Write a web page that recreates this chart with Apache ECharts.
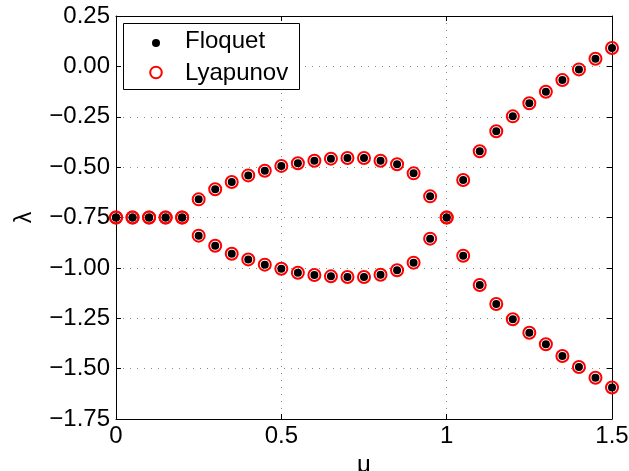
<!DOCTYPE html>
<html><head><meta charset="utf-8">
<script src="https://cdn.jsdelivr.net/npm/echarts@6/dist/echarts.min.js"></script>
<style>html,body{margin:0;padding:0;background:#fff}#c{width:629px;height:471px}</style>
</head><body><div id="c"></div>
<script>
const mu = [0,0.05,0.1,0.15,0.2,0.25,0.3,0.35,0.4,0.45,0.5,0.55,0.6,0.65,0.7,0.75,0.8,0.85,0.9,0.95,1.0,1.05,1.1,1.15,1.2,1.25,1.3,1.35,1.4,1.45,1.5];
const floquetUpper = [-0.75,-0.75,-0.75,-0.75,-0.75,-0.66,-0.61,-0.574,-0.541,-0.518,-0.494,-0.481,-0.468,-0.458,-0.455,-0.455,-0.468,-0.486,-0.531,-0.645,-0.75,-0.564,-0.421,-0.322,-0.248,-0.183,-0.126,-0.068,-0.015,0.038,0.091];
const floquetLower = [-0.75,-0.75,-0.75,-0.75,-0.75,-0.84,-0.89,-0.93,-0.958,-0.984,-1.004,-1.024,-1.035,-1.042,-1.045,-1.045,-1.034,-1.012,-0.974,-0.855,-0.75,-0.94,-1.085,-1.179,-1.255,-1.322,-1.379,-1.437,-1.492,-1.545,-1.594];
const lyapunovUpper = [-0.75,-0.75,-0.75,-0.75,-0.75,-0.66,-0.61,-0.574,-0.541,-0.518,-0.494,-0.481,-0.468,-0.458,-0.455,-0.455,-0.468,-0.486,-0.531,-0.645,-0.75,-0.564,-0.421,-0.322,-0.248,-0.183,-0.126,-0.068,-0.015,0.038,0.091];
const lyapunovLower = [-0.75,-0.75,-0.75,-0.75,-0.75,-0.84,-0.89,-0.93,-0.958,-0.984,-1.004,-1.024,-1.035,-1.042,-1.045,-1.045,-1.034,-1.012,-0.974,-0.855,-0.75,-0.94,-1.085,-1.179,-1.255,-1.322,-1.379,-1.437,-1.492,-1.545,-1.594];
const seriesNames = ['Floquet', 'Lyapunov'];
const xMin = 0, xMax = 1.5, xStep = 0.5;
const yMin = -1.75, yMax = 0.25, yStep = 0.25;

const FONT = '"Liberation Sans", Arial, Helvetica, sans-serif';
function pairs(xs, a, b) {
  const out = [];
  xs.forEach((x, i) => out.push([x, a[i]]));
  xs.forEach((x, i) => out.push([x, b[i]]));
  return out;
}
const fmtY = v => (v < 0 ? '\u2212' : '') + Math.abs(v).toFixed(2);
const fmtX = v => String(+v.toFixed(2));
const gridLine = { show: true, lineStyle: { color: '#8a8a8a', type: [1, 6], width: 1 } };
const axLine = { show: true, onZero: false, lineStyle: { color: '#000', width: 1 } };
const tick = { show: true, inside: true, length: 5, lineStyle: { color: '#000' } };

const chart = echarts.init(document.getElementById('c'));
chart.setOption({
  animation: false,
  backgroundColor: '#fff',
  textStyle: { fontFamily: FONT },
  grid: { left: 116, top: 16, right: 17, bottom: 52, containLabel: false, outerBoundsMode: 'none' },
  xAxis: [
    { type: 'value', min: xMin, max: xMax, interval: xStep, position: 'bottom',
      name: '\u03bc', nameLocation: 'middle', nameGap: 27,
      nameTextStyle: { fontSize: 24, color: '#000', fontFamily: FONT },
      axisLine: axLine, axisTick: tick, splitLine: gridLine,
      axisLabel: { fontSize: 24, color: '#000', margin: 5, formatter: fmtX, fontFamily: FONT } },
    { type: 'value', min: xMin, max: xMax, interval: xStep, position: 'top',
      axisLine: axLine, axisTick: tick, splitLine: { show: false }, axisLabel: { show: false } }
  ],
  yAxis: [
    { type: 'value', min: yMin, max: yMax, interval: yStep, position: 'left',
      name: '\u03bb', nameLocation: 'middle', nameGap: 80, nameRotate: 90,
      nameTextStyle: { fontSize: 23, color: '#000', fontFamily: FONT },
      axisLine: axLine, axisTick: tick, splitLine: gridLine,
      axisLabel: { fontSize: 24, color: '#000', margin: 6, formatter: fmtY, fontFamily: FONT } },
    { type: 'value', min: yMin, max: yMax, interval: yStep, position: 'right',
      axisLine: axLine, axisTick: tick, splitLine: { show: false }, axisLabel: { show: false } }
  ],
  graphic: [
    { type: 'rect', z: 10, left: 123, top: 23, shape: { width: 176, height: 66 },
      style: { fill: '#fff', stroke: '#000', lineWidth: 1 } },
    { type: 'circle', z: 11, shape: { cx: 156, cy: 43, r: 4 }, style: { fill: '#000' } },
    { type: 'text', z: 11, x: 185, y: 41,
      style: { text: seriesNames[0], font: '24px ' + FONT, fill: '#000', textVerticalAlign: 'middle', verticalAlign: 'middle' } },
    { type: 'circle', z: 11, shape: { cx: 156, cy: 72.5, r: 5.8 },
      style: { fill: 'none', stroke: '#ff0000', lineWidth: 2 } },
    { type: 'text', z: 11, x: 185, y: 73,
      style: { text: seriesNames[1], font: '24px ' + FONT, fill: '#000', textVerticalAlign: 'middle', verticalAlign: 'middle' } }
  ],
  series: [
    { name: seriesNames[0], type: 'scatter', symbol: 'circle', symbolSize: 8, z: 3,
      itemStyle: { color: '#000', opacity: 1 }, data: pairs(mu, floquetUpper, floquetLower) },
    { name: seriesNames[1], type: 'scatter', symbol: 'circle', symbolSize: 12, z: 4,
      itemStyle: { color: 'rgba(0,0,0,0)', borderColor: '#ff0000', borderWidth: 2, opacity: 1 },
      data: pairs(mu, lyapunovUpper, lyapunovLower) }
  ]
});
</script></body></html>
